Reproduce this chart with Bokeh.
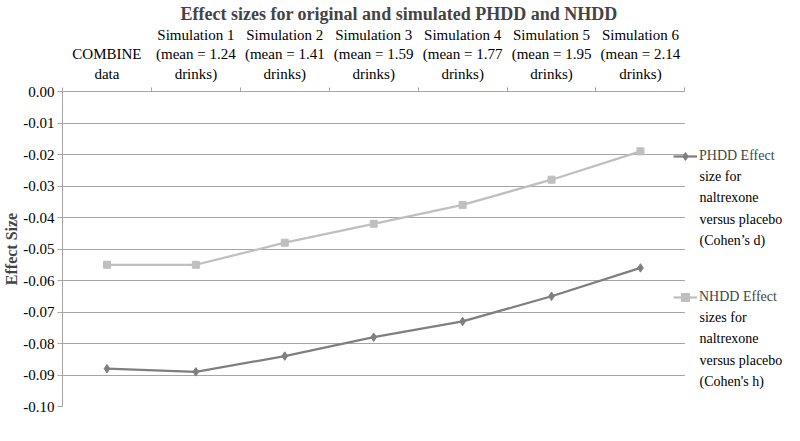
from bokeh.plotting import figure
from bokeh.models import (Range1d, FixedTicker, LinearAxis, Legend, LegendItem,
                          NumeralTickFormatter, ColumnDataSource, BoxAnnotation, Label)
from bokeh.embed import file_html
from bokeh.resources import INLINE

categories = ["COMBINE\ndata",
              "Simulation 1\n(mean = 1.24\ndrinks)",
              "Simulation 2\n(mean = 1.41\ndrinks)",
              "Simulation 3\n(mean = 1.59\ndrinks)",
              "Simulation 4\n(mean = 1.77\ndrinks)",
              "Simulation 5\n(mean = 1.95\ndrinks)",
              "Simulation 6\n(mean = 2.14\ndrinks)"]
phdd = [-0.088, -0.089, -0.084, -0.078, -0.073, -0.065, -0.056]
nhdd = [-0.055, -0.055, -0.048, -0.042, -0.036, -0.028, -0.019]
y_ticks = [0.00, -0.01, -0.02, -0.03, -0.04, -0.05, -0.06, -0.07, -0.08, -0.09, -0.10]
phdd_label = ["PHDD Effect", "size for", "naltrexone", "versus placebo", "(Cohen\u2019s d)"]
nhdd_label = ["NHDD Effect", "sizes for", "naltrexone", "versus placebo", "(Cohen's h)"]

n = len(categories)
x_pos = [i + 0.5 for i in range(n)]
src = ColumnDataSource(dict(x=x_pos, phdd=phdd, nhdd=nhdd))

FONT = "Liberation Serif"
GRID = "#a6a6a6"

# frame spans to the right edge; the extra room right of the last category holds the legend
p = figure(width=784, height=425, output_backend="svg", toolbar_location=None,
           x_range=Range1d(0, 8.12), y_range=Range1d(-0.10, 0.0),
           x_axis_location=None, y_axis_location="left",
           min_border_left=54, min_border_right=0, min_border_top=85,
           min_border_bottom=19)
p.outline_line_color = None
p.background_fill_color = "white"

p.title.text = "Effect sizes for original and simulated PHDD and NHDD"
p.title.align = "left"
p.title.offset = 118
p.title.text_font = FONT
p.title.text_font_size = "18px"
p.title.text_font_style = "bold"
p.title.standoff = 2

xaxis = LinearAxis(ticker=FixedTicker(ticks=x_pos, minor_ticks=list(range(n + 1))),
                   bounds=(0, n))
xaxis.major_label_overrides = {x: c for x, c in zip(x_pos, categories)}
xaxis.major_tick_out = 0
xaxis.major_tick_in = 0
xaxis.minor_tick_out = 4
xaxis.minor_tick_in = 0
xaxis.minor_tick_line_color = GRID
xaxis.axis_line_color = GRID
xaxis.major_label_text_font = FONT
xaxis.major_label_text_font_size = "15px"
xaxis.major_label_text_color = "black"
xaxis.major_label_standoff = 6
p.add_layout(xaxis, "above")

ya = p.yaxis[0]
ya.ticker = FixedTicker(ticks=y_ticks)
ya.formatter = NumeralTickFormatter(format="0.00")
ya.axis_label = "Effect Size"
ya.axis_label_text_font = FONT
ya.axis_label_text_font_size = "16px"
ya.axis_label_text_font_style = "bold"
ya.axis_label_standoff = 0
ya.major_label_text_font = FONT
ya.major_label_text_font_size = "15px"
ya.major_label_text_color = "black"
ya.major_label_standoff = 3
ya.major_tick_out = 5
ya.major_tick_in = 0
ya.minor_tick_out = 0
ya.minor_tick_in = 0
ya.axis_line_color = GRID
ya.major_tick_line_color = GRID

p.xgrid.visible = False
p.ygrid.ticker = FixedTicker(ticks=y_ticks)
p.ygrid.grid_line_color = GRID
p.ygrid.grid_line_width = 1

# blank out grid lines to the right of the category area (legend area)
p.add_layout(BoxAnnotation(left=n, fill_color="white", fill_alpha=1.0,
                           line_alpha=0, level="underlay"))

l1 = p.line("x", "phdd", source=src, line_color="#7f7f7f", line_width=2.25)
s1 = p.scatter("x", "phdd", source=src, marker="diamond", size=8.5, color="#7f7f7f")
l2 = p.line("x", "nhdd", source=src, line_color="#bfbfbf", line_width=2.25)
s2 = p.scatter("x", "nhdd", source=src, marker="square", size=7, color="#bfbfbf")

legend = Legend(items=[LegendItem(label=phdd_label[0], renderers=[l1, s1]),
                       LegendItem(label=nhdd_label[0], renderers=[l2, s2])],
                location=(611, 99), padding=0, margin=0, spacing=121,
                border_line_color=None, background_fill_alpha=0,
                label_text_font=FONT, label_text_font_size="14px",
                glyph_width=24, glyph_height=20, label_height=20, label_standoff=2)
p.add_layout(legend, "center")

# continuation lines of the two legend labels
LINE_H = 21.5
for first_y, lines in ((252, phdd_label), (111, nhdd_label)):
    for k, t in enumerate(lines[1:], start=1):
        p.add_layout(Label(x=637, y=first_y - k * LINE_H, x_units="screen", y_units="screen",
                           text=t, text_font=FONT, text_font_size="14px",
                           text_baseline="middle", text_color="black"))

open("out.html", "w").write(file_html(p, INLINE))
